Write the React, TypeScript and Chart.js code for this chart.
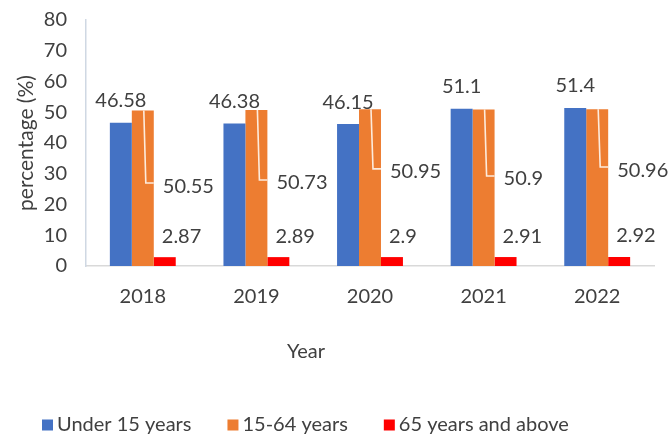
import React, { useEffect, useRef } from "react";
import { Chart, registerables } from "chart.js";

Chart.register(...registerables);

const categories = ["2018", "2019", "2020", "2021", "2022"];
const under15 = [46.58, 46.38, 46.15, 51.1, 51.4];
const age15to64 = [50.55, 50.73, 50.95, 50.9, 50.96];
const age65plus = [2.87, 2.89, 2.9, 2.91, 2.92];
const seriesNames = ["Under 15 years", "15-64 years", "65 years and above"];
const seriesColors = ["#4472C4", "#ED7D31", "#FF0000"];
const yMin = 0;
const yMax = 80;
const yStep = 10;
const xTitle = "Year";
const yTitle = "percentage (%)";

// where the leader-lined labels of the middle series sit (in axis units)
const middleLabelLevels = [26.0, 27.0, 30.6, 28.3, 31.2];

const FONT = "Lato, 'Open Sans', sans-serif";
const TEXT = "#404040";

const labelPlugin = {
  id: "customLabels",
  afterDatasetsDraw(chart: any) {
    const ctx = chart.ctx;
    const yScale = chart.scales.y;
    ctx.save();
    ctx.font = `20px ${FONT}`;
    ctx.fillStyle = TEXT;
    ctx.textBaseline = "middle";
    chart.getDatasetMeta(0).data.forEach((bar: any, i: number) => {
      ctx.textAlign = "center";
      ctx.fillText(String(under15[i]), bar.x, bar.y - 22);
    });
    chart.getDatasetMeta(1).data.forEach((bar: any, i: number) => {
      const ly = yScale.getPixelForValue(middleLabelLevels[i]);
      const half = bar.width / 2;
      ctx.strokeStyle = "#FDEBDD";
      ctx.lineWidth = 1.6;
      ctx.beginPath();
      ctx.moveTo(bar.x + 1, bar.y);
      ctx.lineTo(bar.x + 3, ly - 3);
      ctx.lineTo(bar.x + half, ly - 3);
      ctx.stroke();
      ctx.textAlign = "left";
      ctx.fillText(String(age15to64[i]), bar.x + half + 9, ly);
    });
    chart.getDatasetMeta(2).data.forEach((bar: any, i: number) => {
      ctx.textAlign = "left";
      ctx.fillText(String(age65plus[i]), bar.x - bar.width / 2 + 8, bar.y - 21);
    });
    ctx.restore();
  },
  afterDraw(chart: any) {
    const ctx = chart.ctx;
    const area = chart.chartArea;
    ctx.save();
    ctx.fillStyle = TEXT;
    ctx.textAlign = "center";
    ctx.textBaseline = "middle";
    // y title
    ctx.save();
    ctx.font = `21px ${FONT}`;
    ctx.translate(26, (area.top + area.bottom) / 2);
    ctx.rotate(-Math.PI / 2);
    ctx.fillText(yTitle, 0, 0);
    ctx.restore();
    // x title
    ctx.font = `20px ${FONT}`;
    ctx.fillText(xTitle, 306, 352);
    // legend
    let x = 42;
    const y = 425;
    const box = 11;
    ctx.textAlign = "left";
    seriesNames.forEach((name, i) => {
      ctx.fillStyle = seriesColors[i];
      ctx.fillRect(x, y - box / 2, box, box);
      ctx.fillStyle = TEXT;
      const tx = x + box + 4;
      ctx.fillText(name, tx, y);
      x = tx + ctx.measureText(name).width + 36;
    });
    ctx.restore();
  },
};

export default function App() {
  const ref = useRef<HTMLCanvasElement>(null);
  useEffect(() => {
    document.body.style.margin = "0";
    const chart = new Chart(ref.current!, {
      type: "bar",
      data: {
        labels: categories,
        datasets: [
          { label: seriesNames[0], data: under15, backgroundColor: seriesColors[0] },
          { label: seriesNames[1], data: age15to64, backgroundColor: seriesColors[1] },
          { label: seriesNames[2], data: age65plus, backgroundColor: seriesColors[2] },
        ],
      },
      options: {
        animation: false,
        responsive: false,
        devicePixelRatio: 1,
        layout: { padding: { top: 20, right: 17, left: 0, bottom: 0 } },
        datasets: { bar: { barPercentage: 1, categoryPercentage: 0.58 } },
        plugins: { legend: { display: false }, tooltip: { enabled: false } },
        scales: {
          x: {
            grid: { display: false, drawTicks: false },
            border: { color: "#D9D9D9", width: 1.5 },
            ticks: { color: TEXT, font: { family: FONT, size: 20 }, padding: 19 },
            afterFit: (s: any) => {
              s.height = 171;
              s.paddingLeft = 0;
              s.paddingRight = 0;
            },
          },
          y: {
            min: yMin,
            max: yMax,
            grid: { display: false, drawTicks: false },
            border: { color: "#CFD8E3", width: 1.5 },
            ticks: { stepSize: yStep, color: TEXT, font: { family: FONT, size: 20 }, padding: 19 },
            afterFit: (s: any) => {
              s.width = 86;
              s.paddingTop = 0;
              s.paddingBottom = 0;
            },
          },
        },
      },
      plugins: [labelPlugin],
    });
    return () => chart.destroy();
  }, []);
  return (
    <div style={{ width: 671, height: 437, background: "#fff" }}>
      <canvas ref={ref} width={671} height={437} style={{ display: "block" }} />
    </div>
  );
}
